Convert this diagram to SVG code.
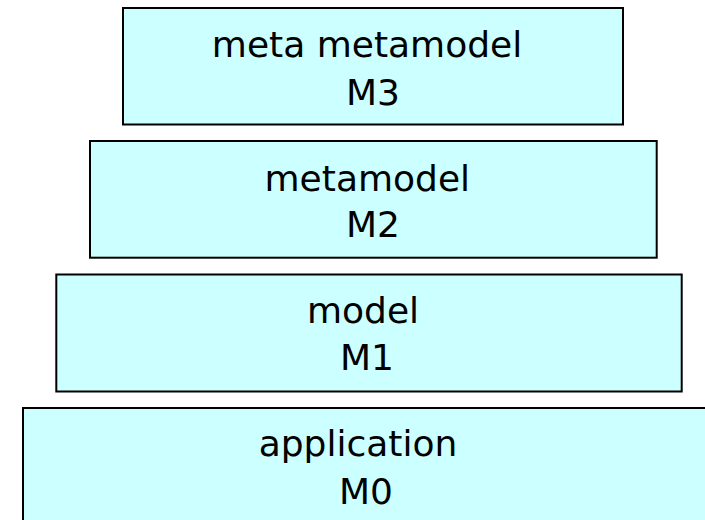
<svg xmlns="http://www.w3.org/2000/svg" width="705" height="520" viewBox="0 0 705 520">
  <style>
    .box { fill: #CCFFFF; stroke: #000000; stroke-width: 2; }
    .lbl { font-family: "DejaVu Sans", "Liberation Sans", sans-serif; font-size: 36px; fill: #000000; text-anchor: middle; }
  </style>
  <rect width="705" height="520" fill="#FFFFFF"/>
  <g id="m3">
    <rect class="box" x="123" y="8" width="500" height="116.5"/>
    <text class="lbl" x="367" y="57">meta metamodel</text>
    <text class="lbl" x="373" y="104.5">M3</text>
  </g>
  <g id="m2">
    <rect class="box" x="90" y="141" width="566.7" height="116.7"/>
    <text class="lbl" x="367.3" y="190.7">metamodel</text>
    <text class="lbl" x="373" y="237.3">M2</text>
  </g>
  <g id="m1">
    <rect class="box" x="56.3" y="274.5" width="625.4" height="117"/>
    <text class="lbl" x="363" y="323.3">model</text>
    <text class="lbl" x="367" y="370">M1</text>
  </g>
  <g id="m0">
    <rect class="box" x="23" y="408" width="700" height="130"/>
    <text class="lbl" x="358" y="455.7">application</text>
    <text class="lbl" x="366" y="504.3">M0</text>
  </g>
  <g id="connectors"></g>
</svg>
